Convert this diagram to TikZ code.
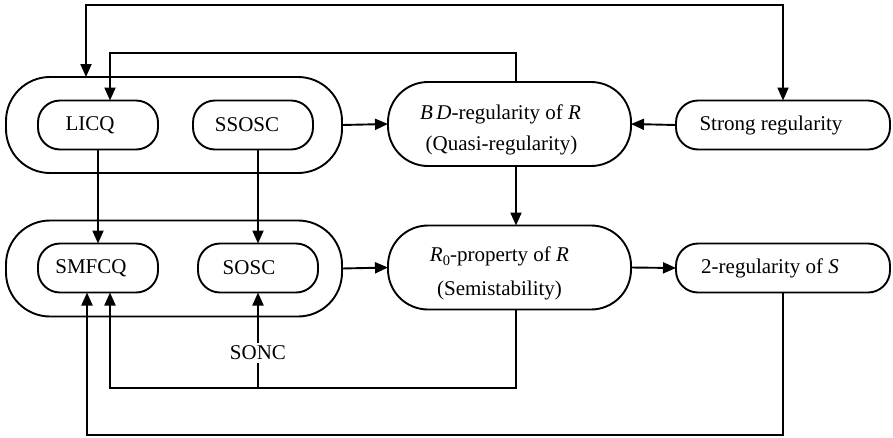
\documentclass[tikz,border=0pt]{standalone}
\usepackage{fontspec}
\setmainfont{Liberation Serif}
\usetikzlibrary{arrows.meta}
\begin{document}
\begin{tikzpicture}[x=1pt,y=-1pt,
  every node/.style={font=\fontsize{21}{24}\selectfont},
  box/.style={draw,line width=1.9pt,rounded corners=#1,inner sep=0pt,outer sep=0pt},
  outerbox/.style={box=44pt,minimum width=336pt,minimum height=96pt},
  smallbox/.style={box=22pt,minimum width=120pt,minimum height=49pt},
  bigbox/.style={box=40pt,minimum width=243pt,minimum height=84pt,align=center},
  widebox/.style={box=22pt,minimum width=214pt,minimum height=49pt},
  conn/.style={line width=1.9pt},
  arr/.style={conn,-{Triangle[length=13pt,width=11pt]}},
  darr/.style={conn,{Triangle[length=13pt,width=11pt]}-{Triangle[length=13pt,width=11pt]}}
]
\useasboundingbox (0,0) rectangle (893,437);
% top group
\node[outerbox] (outer1) at (174,125) {};
\node[smallbox] (licq) at (98,125) {LICQ\kern16pt};
\node[smallbox] (ssosc) at (253,125) {SSOSC\kern12pt};
\node[bigbox] (bd) at (509.5,124) {\rule{0pt}{27pt}{\itshape B\,D}-regularity of {\itshape R}\kern18pt\\[7pt](Quasi-regularity)\kern16pt};
\node[widebox] (strong) at (783,125) {Strong regularity\kern24pt};
% bottom group
\node[outerbox] (outer2) at (174,268.5) {};
\node[smallbox] (smfcq) at (98,268) {SMFCQ\kern14pt};
\node[smallbox] (sosc) at (258,268) {SOSC\kern18pt};
\node[bigbox] (r0) at (509.5,267.5) {\rule{0pt}{26pt}{\itshape R}\raisebox{-0.22em}{\fontsize{14.5}{15}\selectfont 0}-property of {\itshape R}\kern20pt\\[10pt](Semistability)\kern20pt};
\node[widebox] (reg2) at (783,268) {2-regularity of {\itshape S}\kern26pt};
\node[inner sep=3pt] (sonc) at (258,353) {SONC};
% coordinates for loops
\coordinate (toprow) at (0,5);
\coordinate (midrow) at (0,53);
\coordinate (lowrow) at (0,388);
\coordinate (botrow) at (0,435);
% horizontal arrows
\draw[arr] (outer1.east) -- (bd.west);
\draw[arr] (strong.west) -- (bd.east);
\draw[arr] (outer2.east) -- (r0.west);
\draw[arr] (r0.east) -- (reg2.west);
% vertical arrows
\draw[arr] ([xshift=6.5pt]bd.south) -- ([xshift=6.5pt]r0.north);
\draw[arr] (licq.south) -- (smfcq.north);
\draw[arr] (sosc.north |- ssosc.south) -- (sosc.north);
\draw[arr] (sonc.north) -- (sosc.south);
% top loop (equivalence)
\draw[darr] ([xshift=-88pt]outer1.north) -- ([xshift=-88pt]outer1.north |- toprow) -| (strong.north);
% BD -> LICQ
\draw[arr] ([xshift=6.5pt]bd.north) -- ([xshift=6.5pt]bd.north |- midrow) -| ([xshift=12pt]licq.north);
% R0 -> SMFCQ
\draw[arr] ([xshift=6.5pt]r0.south) -- ([xshift=6.5pt]r0.south |- lowrow) -| ([xshift=12pt]smfcq.south);
\draw[conn] (sonc.south) -- (sonc.south |- lowrow);
% 2-regularity -> SMFCQ
\draw[arr] (reg2.south) -- (reg2.south |- botrow) -| ([xshift=-11pt]smfcq.south);
\end{tikzpicture}
\end{document}
